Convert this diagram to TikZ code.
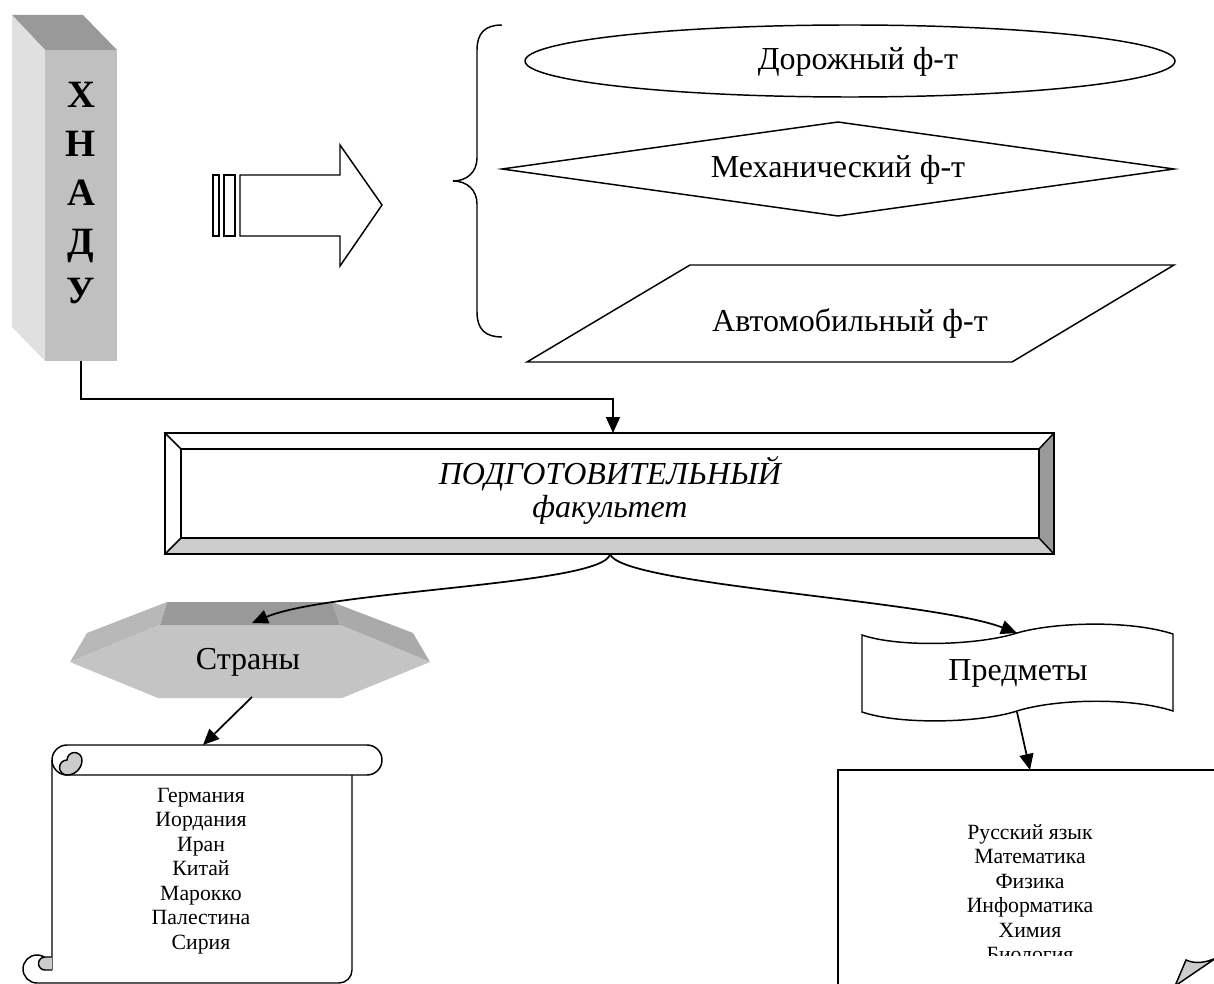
\documentclass[tikz,border=0pt]{standalone}
\usepackage{fontspec}
\setmainfont{Liberation Serif}
\usetikzlibrary{arrows.meta}

\begin{document}
\begin{tikzpicture}[x=0.75pt,y=0.75pt,yscale=-1,xscale=1,
  outline/.style={draw=black, line width=1.1pt},
  conn/.style={draw=black, line width=1.3pt, -{Triangle[length=12pt,width=10.5pt]}},
  bigtext/.style={inner sep=0pt, font=\fontsize{24}{28}\selectfont},
  listtext/.style={inner sep=0pt, align=center, font=\fontsize{16.3}{18.4}\selectfont}]

\useasboundingbox (0,0) rectangle (1214,984);

% ХНАДУ block
\fill [color={rgb, 255:red, 153; green, 153; blue, 153 }] (12,15) -- (83,15) -- (117,50) -- (45,50) -- cycle ;
\fill [color={rgb, 255:red, 224; green, 224; blue, 224 }] (12,15) -- (45,50) -- (45,361) -- (12,327) -- cycle ;
\fill [color={rgb, 255:red, 192; green, 192; blue, 192 }] (45,50) rectangle (117,361) ;
\node [inner sep=0pt, align=center, font=\bfseries\fontsize{29}{36.75}\selectfont] (xnadu) at (81,193) {Х\\Н\\А\\Д\\У};

% Big arrow
\draw [outline, line width=0.9pt] (213,175) rectangle (219,236) ;
\draw [outline] (224,175) rectangle (235,236) ;
\draw [outline] (240,175) -- (340,175) -- (340,145) -- (382,205) -- (340,266) -- (340,236) -- (240,236) -- cycle ;

% Brace
\draw [outline] (502,25) .. controls (485,25) and (477,33) .. (477,50) -- (477,158) .. controls (477,172) and (467,181) .. (453,181) .. controls (467,181) and (477,190) .. (477,204) -- (477,312) .. controls (477,329) and (485,337) .. (502,337) ;

% Faculties
\draw [outline] (850,61) ellipse [x radius=325, y radius=36] ;
\node [bigtext] (road) at (858,62) {Дорожный ф-т};
\draw [outline] (502,169) -- (838,122) -- (1174,169) -- (838,216) -- cycle ;
\node [bigtext] (mech) at (838,170) {Механический ф-т};
\draw [outline] (690,265) -- (1174,265) -- (1012,362) -- (527,362) -- cycle ;
\node [bigtext] (auto) at (850,323) {Автомобильный ф-т};

% Preparatory faculty box
\fill [color={rgb, 255:red, 204; green, 204; blue, 204 }] (165,554) -- (181,538) -- (1039,538) -- (1054,554) -- cycle ;
\fill [color={rgb, 255:red, 153; green, 153; blue, 153 }] (1054,433) -- (1039,449) -- (1039,538) -- (1054,554) -- cycle ;
\draw [outline] (165,433) rectangle (1054,554) ;
\draw [outline] (181,449) rectangle (1039,538) ;
\draw [outline] (165,433) -- (181,449) (1054,433) -- (1039,449) (165,554) -- (181,538) (1054,554) -- (1039,538) ;
\node [inner sep=0pt, align=center, font=\itshape\fontsize{24}{24.75}\selectfont] (prep) at (610,490) {ПОДГОТОВИТЕЛЬНЫЙ\\факультет};

% Countries octagon
\fill [color={rgb, 255:red, 153; green, 153; blue, 153 }] (167,602) -- (332,602) -- (340,625) -- (160,625) -- cycle ;
\fill [color={rgb, 255:red, 184; green, 184; blue, 184 }] (167,602) -- (160,625) -- (70,662) -- (87,633) -- cycle ;
\fill [color={rgb, 255:red, 170; green, 170; blue, 170 }] (332,602) -- (413,633) -- (430,662) -- (340,625) -- cycle ;
\fill [color={rgb, 255:red, 196; green, 196; blue, 196 }] (160,625) -- (340,625) -- (430,662) -- (342,698) -- (158,698) -- (70,662) -- cycle ;
\node [bigtext] (strany) at (248,662) {Страны};

% Scroll
\draw [outline, fill=white] (52,760) -- (52,970) (352,775) -- (352,970) arc [start angle=0, end angle=90, radius=13] -- (37,983) ;
\draw [outline] (37,983) arc [start angle=90, end angle=360, radius=14] ;
\draw [outline, fill={rgb, 255:red, 204; green, 204; blue, 204 }] (52,957) -- (45,957) arc [start angle=270, end angle=90, radius=6.5] -- (52,970) ;
\draw [outline, fill=white] (67,745) -- (367,745) arc [start angle=270, end angle=450, radius=15] -- (67,775) arc [start angle=90, end angle=270, radius=15] -- cycle ;
\draw [outline, fill={rgb, 255:red, 204; green, 204; blue, 204 }] (67,760) arc [start angle=270, end angle=90, radius=7.5] arc [start angle=90, end angle=0, radius=15] arc [start angle=360, end angle=180, radius=7.5] -- cycle ;
\node [listtext] (countries) at (201,871) {Германия\\Иордания\\Иран\\Китай\\Марокко\\Палестина\\Сирия};

% Subjects wave
\draw [outline, fill=white] (862,635) .. controls (900,648) and (980,645) .. (1017,633) .. controls (1055,622) and (1130,620) .. (1173,634) -- (1173,711) .. controls (1130,697) and (1055,699) .. (1017,711) .. controls (980,723) and (900,725) .. (862,712) -- cycle ;
\node [bigtext] (predm) at (1018,673) {Предметы};

% Page with folded corner
\draw [outline] (838,990) -- (838,770) -- (1220,770) ;
\draw [outline, fill={rgb, 255:red, 204; green, 204; blue, 204 }] (1175,986) -- (1186,960) .. controls (1195,964) and (1205,963) .. (1216,958) -- cycle ;
\begin{scope}
\clip (838,770) rectangle (1214,955) ;
\node [listtext] (subjects) at (1030,893) {Русский язык\\Математика\\Физика\\Информатика\\Химия\\Биология};
\end{scope}

% Connection points
\coordinate (xnadu-s) at (81,361) ;
\coordinate (prep-n) at (613,433) ;
\coordinate (prep-s) at (610,554) ;
\coordinate (strany-n) at (252,623) ;
\coordinate (strany-s) at (252,697) ;
\coordinate (scroll-n) at (203,745) ;
\coordinate (predm-n) at (1017,633) ;
\coordinate (predm-s) at (1017,712) ;
\coordinate (page-n) at (1030,770) ;

% Connectors
\draw [conn] (xnadu-s) -- (81,399) -| (prep-n) ;
\draw [conn] (prep-s) .. controls (605,585) and (330,590) .. (strany-n) ;
\draw [conn] (prep-s) .. controls (620,585) and (930,600) .. (predm-n) ;
\draw [conn] (strany-s) -- (scroll-n) ;
\draw [conn] (predm-s) -- (page-n) ;

\end{tikzpicture}
\end{document}
